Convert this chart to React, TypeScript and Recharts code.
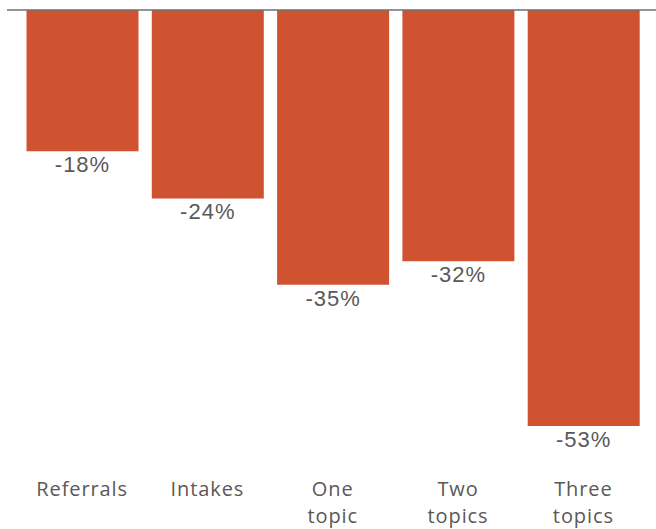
import { BarChart, Bar, XAxis, YAxis, LabelList, ReferenceLine } from "recharts";

const categories = ["Referrals", "Intakes", "One topic", "Two topics", "Three topics"];
const changes = [-18, -24, -35, -32, -53];

const data = categories.map((name, i) => ({ name, change: changes[i] }));

const BAR_COLOR = "#CF5330";
const TEXT_COLOR = "#595959";

function CategoryTick(props: any) {
  const { x, y, payload } = props;
  const words = String(payload.value).split(" ");
  return (
    <text
      x={x}
      y={y}
      textAnchor="middle"
      fill={TEXT_COLOR}
      fontFamily="'Open Sans', sans-serif"
      fontSize={20}
      letterSpacing={0.9}
    >
      {words.map((w, i) => (
        <tspan key={i} x={x} dy={i === 0 ? 15 : 27}>
          {w}
        </tspan>
      ))}
    </text>
  );
}

function ValueLabel(props: any) {
  const { x, y, width, height, value } = props;
  const bottom = Math.max(y, y + height);
  return (
    <text
      x={x + width / 2}
      y={bottom + 21}
      textAnchor="middle"
      fill={TEXT_COLOR}
      fontFamily="'Liberation Sans', Arial, sans-serif"
      fontSize={22}
      letterSpacing={1}
    >
      {`${value}%`}
    </text>
  );
}

export default function App() {
  return (
    <div style={{ position: "absolute", left: 0, top: 0, background: "#fff" }}>
      <BarChart
        width={656}
        height={529}
        data={data}
        margin={{ top: 10, right: 0, bottom: 0, left: 7 }}
      >
        <XAxis
          dataKey="name"
          axisLine={false}
          tickLine={false}
          tickSize={0}
          tickMargin={0}
          height={48}
          interval={0}
          padding={{ left: 12.5, right: 10 }}
          tick={<CategoryTick />}
        />
        <YAxis hide domain={[-60, 0]} />
        <Bar
          dataKey="change"
          fill={BAR_COLOR}
          barSize={112}
          isAnimationActive={false}
        >
          <LabelList dataKey="change" content={<ValueLabel />} />
        </Bar>
        <ReferenceLine y={0} stroke="#6f6f6f" strokeWidth={1.5} ifOverflow="visible" />
      </BarChart>
    </div>
  );
}
